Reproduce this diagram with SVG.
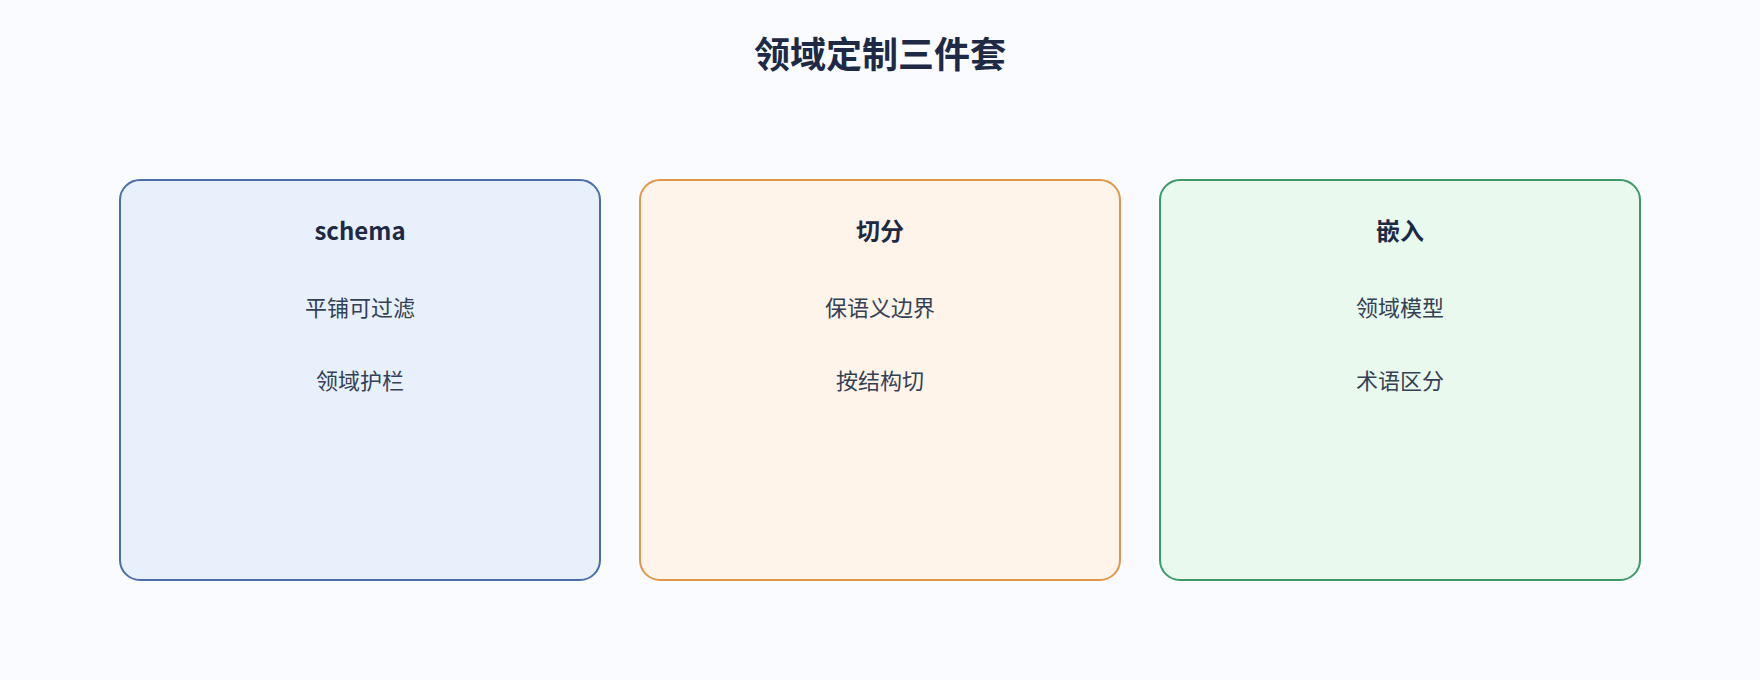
<svg xmlns="http://www.w3.org/2000/svg" width="1760" height="680" viewBox="0 0 1760 680">
  <style>
    text { font-family: "Noto Sans CJK SC", "Noto Sans", sans-serif; text-anchor: middle; }
    .title { font-size: 36px; font-weight: 700; fill: #1e2a45; }
    .head { font-size: 24px; font-weight: 700; fill: #1e2a45; }
    .item { font-size: 22px; fill: #334155; }
    .card { stroke-width: 2; }
  </style>
  <rect x="0" y="0" width="1760" height="680" fill="#f9fbff"/>
  <text class="title" x="880" y="68">领域定制三件套</text>
  <g id="connectors"></g>
  <g id="node-schema">
    <rect class="card" x="120" y="180" width="480" height="400" rx="20" ry="20" fill="#e8f0fc" stroke="#4a6fa8"/>
    <text class="head" x="360" y="240">schema</text>
    <text class="item" x="360" y="316">平铺可过滤</text>
    <text class="item" x="360" y="389">领域护栏</text>
  </g>
  <g id="node-chunk">
    <rect class="card" x="640" y="180" width="480" height="400" rx="20" ry="20" fill="#fff4ea" stroke="#e0974a"/>
    <text class="head" x="880" y="240">切分</text>
    <text class="item" x="880" y="316">保语义边界</text>
    <text class="item" x="880" y="389">按结构切</text>
  </g>
  <g id="node-embed">
    <rect class="card" x="1160" y="180" width="480" height="400" rx="20" ry="20" fill="#eaf9ee" stroke="#3c9a68"/>
    <text class="head" x="1400" y="240">嵌入</text>
    <text class="item" x="1400" y="316">领域模型</text>
    <text class="item" x="1400" y="389">术语区分</text>
  </g>
</svg>
